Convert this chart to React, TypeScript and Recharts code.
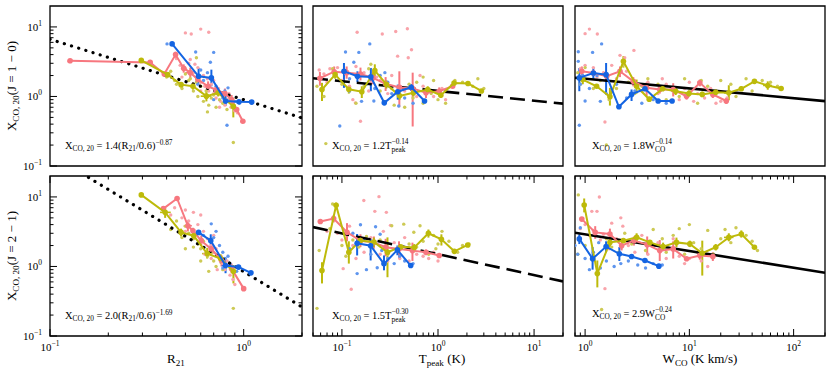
import React from 'react';
import { ComposedChart, Scatter, XAxis, YAxis, ErrorBar, ReferenceArea } from 'recharts';

// bins: [x, y, yLow, yHigh, xLow?, xHigh?]   dots: [x, y]
const yTicks = [0.1, 0.2, 0.3, 0.4, 0.5, 0.6, 0.7, 0.8, 0.9, 1, 2, 3, 4, 5, 6, 7, 8, 9, 10];
const r21Ticks = [0.1, 0.2, 0.3, 0.4, 0.5, 0.6, 0.7, 0.8, 0.9, 1, 2];
const tpeakTicks = [0.05, 0.06, 0.07, 0.08, 0.09, 0.1, 0.2, 0.3, 0.4, 0.5, 0.6, 0.7, 0.8, 0.9, 1, 2, 3, 4, 5, 6, 7, 8, 9, 10, 20];
const wcoTicks = [0.8, 0.9, 1, 2, 3, 4, 5, 6, 7, 8, 9, 10, 20, 30, 40, 50, 60, 70, 80, 90, 100, 200];

const yDomain = [0.1, 20];
const r21Domain = [0.1, 2];
const tpeakDomain = [0.05, 20];
const wcoDomain = [0.8, 200];

// fit: [amplitude, pivot, slope]
const r21OneFit = [1.4, 0.6, -0.87];
const r21TwoFit = [2.0, 0.6, -1.69];
const tpeakOneFit = [1.2, 1, -0.14];
const tpeakTwoFit = [1.5, 1, -0.3];
const wcoOneFit = [1.8, 1, -0.14];
const wcoTwoFit = [2.9, 1, -0.24];

// ---- R21, J=1-0
const r21OnePinkBins = [
  [0.127, 3.27, 3.27, 3.27], [0.329, 3.09, 3.09, 3.09], [0.389, 2.1, 2.1, 2.1], [0.445, 4.0, 3.6, 4.4],
  [0.49, 2.55, 2.2, 2.9], [0.53, 2.2, 1.8, 2.6, 0.5, 0.56], [0.58, 1.75, 1.5, 2.05], [0.655, 1.4, 1.2, 1.65],
  [0.72, 1.25, 1.05, 1.45], [0.8, 1.1, 0.92, 1.3], [0.866, 0.9, 0.75, 1.05], [0.92, 0.65, 0.6, 0.7], [0.99, 0.44, 0.44, 0.44],
];
const r21OneOliveBins = [
  [0.296, 3.3, 3.3, 3.3], [0.405, 2.06, 1.9, 2.25], [0.475, 1.48, 1.35, 1.6], [0.547, 1.4, 1.25, 1.55],
  [0.642, 1.01, 0.85, 1.2, 0.6, 0.68], [0.738, 1.13, 1.0, 1.28], [0.884, 0.72, 0.5, 0.95],
];
const r21OneBlueBins = [
  [0.427, 5.7, 5.7, 5.7], [0.585, 1.95, 1.57, 2.57], [0.681, 1.85, 1.4, 2.43], [0.806, 0.86, 0.73, 1.07],
  [0.945, 0.84, 0.8, 0.88], [1.1, 0.83, 0.83, 0.83],
];
const r21OnePinkDots = [
  [0.125, 3.2], [0.45, 3.5], [0.47, 2.8], [0.5, 8.2], [0.5, 2.5], [0.52, 3.0], [0.536, 7.9], [0.55, 2.2], [0.55, 1.5],
  [0.57, 1.9], [0.58, 2.6], [0.6, 9.3], [0.6, 1.6], [0.6, 1.2], [0.62, 2.0], [0.63, 1.4], [0.65, 1.8], [0.66, 8.4],
  [0.66, 1.2], [0.68, 1.5], [0.7, 1.1], [0.72, 0.95], [0.74, 1.3], [0.76, 0.85], [0.78, 1.0], [0.8, 0.75], [0.82, 0.9],
  [0.84, 1.1], [0.86, 0.7], [0.9, 0.62], [0.93, 0.58], [0.48, 1.9], [0.53, 3.4], [0.56, 2.9], [0.7, 1.7], [0.75, 0.7], [0.88, 0.85],
];
const r21OneBlueDots = [
  [0.402, 5.7], [0.565, 4.35], [0.7, 4.3], [0.673, 3.1], [0.82, 0.385], [0.83, 1.33], [0.6, 2.4], [0.62, 1.7], [0.72, 1.4],
  [0.75, 1.1], [0.78, 0.95], [0.85, 0.9], [0.9, 0.85], [0.95, 0.8], [0.65, 2.2], [0.58, 1.5], [0.7, 0.9], [0.8, 1.2],
];
const r21OneOliveDots = [
  [0.884, 0.218], [0.42, 2.3], [0.44, 1.7], [0.45, 1.5], [0.48, 1.3], [0.5, 2.1], [0.52, 1.7], [0.53, 1.8], [0.55, 1.2],
  [0.57, 3.6], [0.57, 1.6], [0.58, 1.0], [0.6, 1.4], [0.62, 0.85], [0.64, 1.2], [0.65, 0.6], [0.66, 0.75], [0.68, 0.95],
  [0.7, 1.05], [0.72, 0.7], [0.75, 0.9], [0.78, 0.8], [0.82, 0.65], [0.85, 0.95], [0.4, 1.9],
];

// ---- R21, J=2-1
const r21TwoPinkBins = [
  [0.385, 6.8, 6.8, 6.8], [0.453, 9.5, 9.5, 9.5], [0.515, 3.85, 3.2, 4.6, 0.49, 0.54], [0.547, 3.27, 2.9, 3.6],
  [0.604, 2.35, 2.0, 2.8], [0.68, 1.79, 1.5, 2.1], [0.768, 1.22, 1.0, 1.45], [0.866, 0.93, 0.8, 1.1], [1.0, 0.48, 0.48, 0.48],
];
const r21TwoOliveBins = [
  [0.296, 10.7, 10.7, 10.7], [0.393, 6.0, 5.0, 7.2, 0.37, 0.42], [0.475, 3.09, 2.7, 3.5], [0.552, 2.77, 2.45, 3.1],
  [0.648, 1.53, 1.3, 1.85, 0.61, 0.69], [0.76, 1.3, 1.1, 1.5], [0.885, 0.85, 0.57, 1.05],
];
const r21TwoBlueBins = [
  [0.585, 3.09, 3.09, 3.09], [0.676, 2.35, 1.8, 2.9], [0.806, 1.03, 0.8, 1.35, 0.77, 0.84], [0.94, 0.98, 0.92, 1.05],
  [1.09, 0.81, 0.81, 0.81],
];
const r21TwoPinkDots = [
  [0.44, 7.0], [0.48, 5.0], [0.5, 6.5], [0.5, 3.2], [0.52, 4.5], [0.55, 6.0], [0.55, 2.8], [0.58, 4.0], [0.6, 5.5],
  [0.6, 2.2], [0.62, 3.2], [0.63, 1.5], [0.65, 2.5], [0.68, 2.0], [0.68, 1.3], [0.7, 1.6], [0.7, 2.8], [0.72, 1.8],
  [0.75, 1.3], [0.78, 1.1], [0.8, 0.9], [0.82, 1.2], [0.85, 0.75], [0.88, 0.65], [0.9, 0.55], [0.42, 5.5], [0.73, 0.9],
];
const r21TwoBlueDots = [
  [0.62, 2.8], [0.68, 4.1], [0.7, 2.6], [0.72, 3.2], [0.75, 2.0], [0.78, 1.6], [0.78, 0.95], [0.8, 1.3], [0.83, 1.4],
  [0.85, 1.1], [0.88, 0.9], [0.92, 0.85],
];
const r21TwoOliveDots = [
  [0.45, 4.5], [0.48, 2.6], [0.5, 3.8], [0.5, 1.8], [0.52, 3.0], [0.55, 2.5], [0.55, 1.9], [0.58, 2.1], [0.6, 1.8],
  [0.6, 1.2], [0.62, 2.3], [0.65, 1.4], [0.66, 0.85], [0.68, 1.6], [0.7, 1.2], [0.72, 1.0], [0.75, 1.3], [0.78, 0.9],
  [0.884, 0.25], [0.42, 3.4],
];

// ---- Tpeak, J=1-0
const tpeakOnePinkBins = [
  [0.059, 1.83, 1.43, 2.25], [0.083, 2.27, 1.9, 2.7], [0.112, 2.2, 1.8, 2.7], [0.156, 2.1, 1.7, 2.6], [0.21, 1.85, 1.5, 2.3],
  [0.285, 1.52, 1.2, 1.9], [0.396, 1.35, 0.7, 2.3], [0.545, 1.3, 0.37, 2.2], [0.75, 1.13, 0.95, 1.3], [1.03, 1.19, 1.05, 1.35],
  [1.42, 1.4, 1.4, 1.4],
];
const tpeakOneOliveBins = [
  [0.062, 1.26, 0.86, 1.57], [0.085, 2.06, 1.8, 2.35], [0.118, 1.27, 1.1, 1.45], [0.161, 1.17, 0.95, 1.4],
  [0.22, 2.35, 1.8, 2.9], [0.29, 1.5, 1.3, 1.7], [0.398, 1.02, 0.9, 1.15], [0.555, 1.13, 1.0, 1.25],
  [0.782, 1.26, 1.15, 1.4], [1.07, 1.04, 0.95, 1.15], [1.47, 1.56, 1.45, 1.7], [2.05, 1.54, 1.45, 1.65], [2.83, 1.2, 1.2, 1.2],
];
const tpeakOneBlueBins = [
  [0.105, 2.3, 1.33, 3.03], [0.145, 1.95, 1.6, 2.3], [0.2, 1.91, 1.19, 2.57], [0.276, 0.81, 0.81, 0.81],
  [0.381, 1.17, 0.9, 1.48], [0.526, 1.36, 1.2, 1.5], [0.724, 0.86, 0.86, 0.86],
];
const tpeakOnePinkDots = [
  [0.058, 2.4], [0.065, 2.1], [0.07, 1.6], [0.075, 2.5], [0.09, 2.6], [0.1, 1.7], [0.12, 1.4], [0.13, 0.9], [0.138, 0.81],
  [0.14, 2.7], [0.144, 8.4], [0.156, 0.44], [0.17, 2.2], [0.19, 1.2], [0.2, 1.6], [0.23, 1.9], [0.25, 1.7], [0.263, 7.9],
  [0.28, 1.5], [0.3, 1.1], [0.33, 2.0], [0.363, 8.6], [0.38, 3.8], [0.4, 1.4], [0.45, 1.2], [0.48, 9.4], [0.49, 3.6],
  [0.53, 4.7], [0.6, 1.0], [0.65, 2.0], [0.7, 1.4], [0.8, 1.2], [0.9, 1.0], [1.1, 1.3], [1.2, 0.9],
];
const tpeakOneBlueDots = [
  [0.095, 0.376], [0.109, 4.35], [0.12, 1.8], [0.12, 1.2], [0.133, 3.1], [0.15, 4.3], [0.16, 0.85], [0.18, 1.5],
  [0.195, 5.7], [0.215, 0.86], [0.22, 1.3], [0.25, 2.0], [0.28, 2.2], [0.3, 1.6], [0.33, 1.1], [0.39, 0.73], [0.45, 0.95], [0.55, 0.8],
];
const tpeakOneOliveDots = [
  [0.055, 1.4], [0.065, 1.0], [0.068, 0.21], [0.08, 2.5], [0.1, 1.5], [0.12, 1.2], [0.14, 0.8], [0.17, 1.4], [0.19, 2.5],
  [0.2, 2.9], [0.25, 1.2], [0.28, 0.85], [0.33, 1.3], [0.35, 0.75], [0.4, 1.2], [0.45, 0.7], [0.5, 1.5], [0.55, 0.95],
  [0.6, 1.6], [0.7, 0.8], [0.7, 1.9], [0.85, 1.1], [0.9, 1.7], [1.0, 0.9], [1.2, 0.8], [1.5, 1.7], [1.8, 1.6], [2.3, 1.4],
  [2.6, 1.8], [3.0, 1.3],
];

// ---- Tpeak, J=2-1
const tpeakTwoPinkBins = [
  [0.0596, 4.44, 4.44, 4.44], [0.082, 4.9, 4.3, 5.5], [0.113, 3.1, 2.3, 4.2], [0.156, 2.35, 1.9, 2.9], [0.215, 2.22, 1.8, 2.7],
  [0.285, 1.89, 1.4, 2.5], [0.393, 1.79, 1.3, 2.3], [0.542, 1.69, 1.2, 2.2], [0.75, 1.6, 1.45, 1.75], [1.03, 1.44, 1.35, 1.55],
];
const tpeakTwoOliveBins = [
  [0.062, 0.877, 0.57, 1.15], [0.087, 7.6, 6.9, 8.3], [0.118, 1.6, 1.1, 2.3], [0.155, 2.35, 2.35, 2.35], [0.215, 2.25, 1.9, 2.6],
  [0.298, 1.6, 0.7, 2.62], [0.41, 1.92, 1.92, 1.92], [0.567, 1.87, 1.6, 2.1], [0.795, 3.0, 2.6, 3.4], [1.085, 2.46, 2.0, 2.9],
  [1.48, 1.65, 1.65, 1.65], [2.04, 2.04, 2.04, 2.04],
];
const tpeakTwoBlueBins = [
  [0.144, 2.15, 1.44, 2.93], [0.199, 1.99, 1.22, 2.62], [0.274, 1.09, 0.88, 1.44], [0.378, 1.73, 1.45, 2.0], [0.52, 1.03, 1.03, 1.03],
];
const tpeakTwoPinkDots = [
  [0.07, 3.2], [0.09, 3.0], [0.1, 2.4], [0.103, 0.93], [0.12, 3.8], [0.125, 0.47], [0.13, 2.0], [0.14, 1.3], [0.169, 8.9],
  [0.17, 1.6], [0.2, 2.6], [0.22, 6.2], [0.243, 10.1], [0.25, 1.5], [0.27, 3.2], [0.29, 6.0], [0.3, 1.2], [0.32, 3.9],
  [0.35, 2.2], [0.4, 1.3], [0.45, 2.6], [0.5, 1.2], [0.6, 1.5], [0.7, 1.4], [0.8, 1.3], [0.9, 1.6], [1.0, 1.2],
];
const tpeakTwoBlueDots = [
  [0.12, 1.8], [0.13, 3.0], [0.144, 0.79], [0.156, 3.98], [0.17, 2.5], [0.18, 0.9], [0.2, 1.5], [0.224, 3.72], [0.233, 0.96],
  [0.25, 2.9], [0.26, 1.7], [0.3, 1.3], [0.35, 1.1], [0.4, 1.4], [0.45, 1.2], [0.55, 1.1],
];
const tpeakTwoOliveDots = [
  [0.055, 0.25], [0.058, 1.7], [0.075, 3.5], [0.08, 7.9], [0.1, 2.0], [0.11, 1.4], [0.13, 2.4], [0.15, 1.9], [0.18, 2.7],
  [0.25, 2.4], [0.3, 1.5], [0.33, 3.85], [0.38, 1.7], [0.44, 4.06], [0.5, 2.1], [0.56, 3.1], [0.6, 1.9], [0.65, 3.85],
  [0.7, 2.3], [0.8, 1.5], [0.9, 2.8], [0.95, 1.8], [1.0, 2.1], [1.1, 3.2], [1.3, 2.3], [1.6, 1.6], [1.8, 2.0], [2.1, 2.1],
];

// ---- WCO, J=1-0
const wcoOnePinkBins = [
  [0.93, 2.3, 1.9, 2.7], [1.2, 2.18, 2.18, 2.18], [1.61, 1.95, 1.7, 2.2], [2.16, 2.3, 1.9, 2.7], [2.9, 1.65, 1.4, 1.9],
  [3.89, 1.33, 1.0, 1.6], [5.2, 1.26, 1.1, 1.45], [7.0, 1.26, 1.0, 1.55, 6.4, 7.6], [9.4, 1.01, 0.9, 1.15], [12.6, 1.57, 1.4, 1.75],
  [16.8, 1.07, 0.95, 1.2], [22.6, 0.86, 0.78, 0.95],
];
const wcoOneOliveBins = [
  [0.95, 1.75, 1.5, 2.0], [1.29, 1.4, 1.4, 1.4], [1.73, 0.99, 0.74, 1.33], [2.33, 3.2, 2.6, 3.8], [3.12, 1.4, 1.1, 1.75],
  [4.12, 0.91, 0.85, 1.0], [5.53, 1.29, 1.2, 1.4], [7.4, 1.19, 1.05, 1.35], [9.9, 1.1, 1.0, 1.2], [13.3, 1.07, 0.98, 1.17],
  [17.9, 1.15, 1.05, 1.25], [23.9, 1.13, 0.88, 1.45, 21.5, 26.5], [31.5, 1.29, 1.2, 1.4], [42.1, 1.65, 1.55, 1.75],
  [56.5, 1.44, 1.25, 1.65, 51, 62], [75.9, 1.3, 1.3, 1.3],
];
const wcoOneBlueBins = [
  [0.88, 1.85, 1.19, 2.57], [1.2, 2.18, 1.8, 2.6], [1.59, 2.06, 1.13, 3.03], [2.11, 0.71, 0.71, 0.71],
  [2.79, 1.07, 0.86, 1.26], [3.75, 1.29, 1.29, 1.29], [5.02, 0.86, 0.86, 0.86], [6.83, 0.86, 0.86, 0.86],
];
const wcoOnePinkDots = [
  [0.9, 2.5], [1.0, 8.0], [1.0, 2.8], [1.1, 9.3], [1.2, 2.6], [1.3, 1.9], [1.31, 7.9], [1.5, 2.2], [1.55, 0.43], [1.8, 2.8],
  [2.0, 1.8], [2.16, 3.9], [2.4, 3.6], [2.5, 2.3], [2.94, 4.6], [3.0, 1.5], [3.5, 1.2], [4.0, 1.6], [5, 1.1], [5.5, 1.8],
  [6, 1.5], [7, 1.2], [8, 0.9], [9, 1.3], [10, 1.6], [11, 0.85], [12, 1.1], [14, 0.95], [16, 1.3], [18, 0.8], [20, 0.85], [23, 0.95],
];
const wcoOneBlueDots = [
  [0.86, 4.4], [0.86, 3.2], [0.88, 0.385], [0.9, 1.5], [0.95, 2.0], [1.0, 0.86], [1.1, 1.3], [1.18, 4.3], [1.3, 2.0],
  [1.4, 0.85], [1.44, 5.7], [1.6, 1.1], [2.0, 1.5], [2.5, 0.95], [3.0, 1.2], [3.5, 0.8], [4.5, 0.9], [6.0, 0.8],
];
const wcoOneOliveDots = [
  [0.85, 2.2], [0.9, 1.5], [1.0, 2.6], [1.2, 1.3], [1.4, 1.7], [1.6, 0.2], [1.7, 0.9], [2.0, 1.3], [2.3, 2.8], [2.6, 1.6],
  [3.0, 1.1], [3.5, 1.4], [4.0, 1.8], [5, 1.5], [6, 0.9], [7, 1.3], [8, 1.0], [9, 1.8], [10, 1.2], [12, 0.8], [13, 1.7],
  [15, 1.4], [18, 1.2], [20, 1.7], [25, 1.5], [28, 1.0], [35, 1.8], [40, 1.2], [50, 1.7], [60, 1.6], [70, 1.4],
];

// ---- WCO, J=2-1
const wcoTwoPinkBins = [
  [0.93, 4.8, 4.8, 4.8], [1.25, 3.09, 2.5, 3.8], [1.73, 2.93, 2.4, 3.5], [2.24, 1.99, 1.7, 2.3], [2.94, 2.35, 2.0, 2.7],
  [3.94, 2.06, 1.5, 2.7], [5.2, 1.69, 1.2, 2.4], [7.0, 1.79, 1.3, 2.3], [9.4, 1.29, 1.29, 1.29], [12.6, 1.44, 1.25, 1.65],
  [16.8, 1.39, 1.2, 1.6],
];
const wcoTwoOliveBins = [
  [0.98, 7.67, 6.0, 9.5], [1.31, 0.79, 0.5, 1.22], [1.73, 2.22, 1.9, 2.6], [2.33, 2.35, 2.35, 2.35], [3.12, 2.62, 2.3, 3.0],
  [4.18, 2.22, 2.22, 2.22], [5.6, 1.93, 1.7, 2.2], [7.52, 2.22, 1.9, 2.6], [10.1, 2.11, 1.9, 2.35], [13.3, 1.55, 0.74, 2.35],
  [17.9, 1.89, 1.7, 2.1], [23.9, 2.62, 2.3, 3.0, 21.5, 26.5], [31.5, 2.93, 2.6, 3.3], [42.1, 1.89, 1.89, 1.89],
];
const wcoTwoBlueBins = [
  [0.88, 2.49, 2.1, 2.9], [1.18, 1.29, 0.9, 1.9], [1.59, 1.93, 1.6, 2.3], [2.13, 1.52, 1.2, 1.9], [2.79, 1.39, 1.3, 1.5],
  [3.75, 1.22, 1.22, 1.22], [5.1, 1.01, 1.01, 1.01],
];
const wcoTwoPinkDots = [
  [0.9, 3.5], [1.0, 4.0], [1.1, 2.8], [1.16, 6.2], [1.2, 3.3], [1.3, 6.2], [1.37, 10.0], [1.4, 2.4], [1.5, 2.9], [1.55, 0.48],
  [1.7, 1.8], [1.8, 4.2], [2.0, 2.5], [2.2, 5.0], [2.3, 3.8], [2.6, 2.0], [3.0, 1.6], [3.5, 2.8], [4, 1.5], [5, 2.2],
  [6, 1.3], [7, 2.5], [8, 1.4], [9, 1.1], [10, 1.3], [12, 1.6], [13, 1.2], [15, 1.0], [17, 1.5],
];
const wcoTwoBlueDots = [
  [0.8, 2.0], [0.85, 1.5], [0.9, 3.6], [1.0, 1.3], [1.1, 0.9], [1.2, 1.6], [1.35, 2.2], [1.4, 0.95], [1.6, 1.2], [1.9, 1.0],
  [2.2, 1.1], [2.6, 1.2], [3.2, 1.05], [3.8, 0.95], [4.5, 1.1], [5.5, 1.05],
];
const wcoTwoOliveDots = [
  [0.85, 1.5], [0.86, 10.7], [1.0, 2.0], [1.2, 1.3], [1.44, 0.24], [1.6, 2.5], [1.8, 1.9], [2.1, 1.6], [2.4, 3.0], [2.8, 2.1],
  [3.2, 2.6], [3.8, 1.7], [4.5, 3.4], [5.5, 2.5], [6, 1.6], [7, 2.8], [8, 3.5], [9, 1.5], [10, 4.0], [11, 2.2], [13, 1.8],
  [15, 3.3], [17, 1.5], [20, 2.5], [22, 3.4], [25, 2.2], [28, 3.6], [35, 2.8], [40, 2.3], [45, 1.7],
];

const PINK = '#F7777F';
const PINK_DOT = '#F9A3AA';
const OLIVE = '#BDBA0A';
const OLIVE_DOT = '#CDCA55';
const BLUE = '#1464E2';
const BLUE_DOT = '#5E95EE';
const FONT = '"Liberation Serif", "DejaVu Serif", serif';

const toBins = (rows: number[][]) =>
  rows.map(([x, y, lo, hi, xlo, xhi]) => ({
    x,
    y,
    ey: [y - lo, hi - y],
    ex: xlo !== undefined ? [x - xlo, xhi - x] : [0, 0],
  }));
const toDots = (rows: number[][]) => rows.map(([x, y]) => ({ x, y }));
const fitLine = ([amp, pivot, slope]: number[], domain: number[]) =>
  domain.map((x) => ({ x, y: amp * Math.pow(x / pivot, slope) }));

const isDecade = (v: number) => Math.abs(Math.log10(v) - Math.round(Math.log10(v))) < 1e-6;
const expLabel = (v: number) => {
  const e = Math.round(Math.log10(v));
  return e < 0 ? `\u2212${-e}` : `${e}`;
};

const dotShape = (color: string, r: number) => (p: any) =>
  p.cx == null ? <g /> : <circle cx={p.cx} cy={p.cy} r={r} fill={color} />;
const noShape = () => <g />;

const FIT_STYLES: Record<string, any> = {
  dotted: { stroke: '#000', strokeWidth: 3.2, strokeDasharray: '0.1 7.4', strokeLinecap: 'round' },
  dashed: { stroke: '#000', strokeWidth: 2.6, strokeDasharray: '15 7' },
  solid: { stroke: '#000', strokeWidth: 2.6 },
};

interface PanelProps {
  left: number;
  top: number;
  width: number;
  height: number;
  margin: { top: number; right: number; bottom: number; left: number };
  yWidth: number;
  xHeight: number;
  xDomain: number[];
  xTicks: number[];
  showX: boolean;
  showY: boolean;
  fit: number[];
  fitStyle: string;
  pinkBins: number[][];
  oliveBins: number[][];
  blueBins: number[][];
  pinkDots: number[][];
  oliveDots: number[][];
  blueDots: number[][];
}

function Panel(props: PanelProps) {
  const { left, top, width, height, margin, yWidth, xHeight, xDomain, xTicks, showX, showY } = props;
  const plotLeft = margin.left + yWidth;
  const plotRight = width - margin.right;
  const plotTop = margin.top;
  const plotBottom = height - margin.bottom - xHeight;

  const xTick = (p: any) => {
    const v = p.payload.value;
    const major = isDecade(v);
    const len = major ? 7 : 3.5;
    return (
      <g>
        <line x1={p.x} x2={p.x} y1={plotBottom} y2={plotBottom - len} stroke="#000" strokeWidth={1} />
        <line x1={p.x} x2={p.x} y1={plotTop} y2={plotTop + len} stroke="#000" strokeWidth={1} />
        {showX && major && (
          <text x={p.x} y={plotBottom + 15} textAnchor="middle" fontFamily={FONT} fontSize={11} fill="#000">
            10<tspan dy={-5} fontSize={7.5}>{expLabel(v)}</tspan>
          </text>
        )}
      </g>
    );
  };

  const yTick = (p: any) => {
    const v = p.payload.value;
    const major = isDecade(v);
    const len = major ? 7 : 3.5;
    return (
      <g>
        <line x1={plotLeft} x2={plotLeft + len} y1={p.y} y2={p.y} stroke="#000" strokeWidth={1} />
        <line x1={plotRight} x2={plotRight - len} y1={p.y} y2={p.y} stroke="#000" strokeWidth={1} />
        {showY && major && (
          <text x={plotLeft - 8} y={p.y + 4} textAnchor="end" fontFamily={FONT} fontSize={11} fill="#000">
            10<tspan dy={-5} fontSize={7.5}>{expLabel(v)}</tspan>
          </text>
        )}
      </g>
    );
  };

  const series = [
    { bins: props.pinkBins, dots: props.pinkDots, c: PINK, d: PINK_DOT },
    { bins: props.oliveBins, dots: props.oliveDots, c: OLIVE, d: OLIVE_DOT },
    { bins: props.blueBins, dots: props.blueDots, c: BLUE, d: BLUE_DOT },
  ];

  return (
    <div style={{ position: 'absolute', left, top }}>
      <ComposedChart width={width} height={height} margin={margin}>
        <XAxis
          type="number"
          dataKey="x"
          scale="log"
          domain={xDomain}
          allowDataOverflow
          ticks={xTicks}
          interval={0}
          tick={xTick}
          tickLine={false}
          axisLine={false}
          tickSize={0}
          height={xHeight}
        />
        <YAxis
          type="number"
          dataKey="y"
          scale="log"
          domain={yDomain}
          allowDataOverflow
          ticks={yTicks}
          interval={0}
          tick={yTick}
          tickLine={false}
          axisLine={false}
          tickSize={0}
          width={yWidth}
        />
        {series.map((s, i) => (
          <Scatter key={`dots-${i}`} data={toDots(s.dots)} fill={s.d} shape={dotShape(s.d, 1.7)} isAnimationActive={false} />
        ))}
        <Scatter
          data={fitLine(props.fit, xDomain)}
          fill="#000"
          line={FIT_STYLES[props.fitStyle]}
          shape={noShape}
          isAnimationActive={false}
        />
        {series.map((s, i) => (
          <Scatter
            key={`bins-${i}`}
            data={toBins(s.bins)}
            fill={s.c}
            line={{ stroke: s.c, strokeWidth: 2 }}
            shape={dotShape(s.c, 2.8)}
            isAnimationActive={false}
          >
            <ErrorBar dataKey="ey" direction="y" width={0} stroke={s.c} strokeWidth={2} isAnimationActive={false} />
            <ErrorBar dataKey="ex" direction="x" width={0} stroke={s.c} strokeWidth={1.6} isAnimationActive={false} />
          </Scatter>
        ))}
        <ReferenceArea
          x1={xDomain[0]}
          x2={xDomain[1]}
          y1={yDomain[0]}
          y2={yDomain[1]}
          fill="none"
          fillOpacity={0}
          stroke="#000"
          strokeWidth={1.3}
          ifOverflow="visible"
        />
      </ComposedChart>
    </div>
  );
}

const colGeom = [
  { left: 0, width: 310, mLeft: 0, yWidth: 50, mRight: 8, showY: true },
  { left: 305, width: 265, mLeft: 8, yWidth: 0, mRight: 7, showY: false },
  { left: 567, width: 265, mLeft: 8, yWidth: 0, mRight: 7, showY: false },
];
const rowGeom = [
  { top: 0, height: 172, mTop: 6, mBottom: 6, xHeight: 0, showX: false },
  { top: 170, height: 204, mTop: 6, mBottom: 0, xHeight: 38, showX: true },
];

const text: React.CSSProperties = { position: 'absolute', fontFamily: FONT, color: '#000', whiteSpace: 'nowrap', lineHeight: 1 };
const sub: React.CSSProperties = { fontSize: '0.7em', verticalAlign: '-0.3em' };
const sup: React.CSSProperties = { fontSize: '0.7em', verticalAlign: '0.5em' };

function SubSup({ lo, hi }: { lo: string; hi: string }) {
  return (
    <span style={{ display: 'inline-flex', flexDirection: 'column', fontSize: '0.7em', lineHeight: 1.15, verticalAlign: '0.7em' }}>
      <span>{hi}</span>
      <span>{lo}</span>
    </span>
  );
}

const XCO = () => (
  <>
    X<span style={sub}>CO, 20</span>
  </>
);

export default function App() {
  const panels = [
    { c: 0, r: 0, xDomain: r21Domain, xTicks: r21Ticks, fit: r21OneFit, fitStyle: 'dotted', pb: r21OnePinkBins, ob: r21OneOliveBins, bb: r21OneBlueBins, pd: r21OnePinkDots, od: r21OneOliveDots, bd: r21OneBlueDots },
    { c: 0, r: 1, xDomain: r21Domain, xTicks: r21Ticks, fit: r21TwoFit, fitStyle: 'dotted', pb: r21TwoPinkBins, ob: r21TwoOliveBins, bb: r21TwoBlueBins, pd: r21TwoPinkDots, od: r21TwoOliveDots, bd: r21TwoBlueDots },
    { c: 1, r: 0, xDomain: tpeakDomain, xTicks: tpeakTicks, fit: tpeakOneFit, fitStyle: 'dashed', pb: tpeakOnePinkBins, ob: tpeakOneOliveBins, bb: tpeakOneBlueBins, pd: tpeakOnePinkDots, od: tpeakOneOliveDots, bd: tpeakOneBlueDots },
    { c: 1, r: 1, xDomain: tpeakDomain, xTicks: tpeakTicks, fit: tpeakTwoFit, fitStyle: 'dashed', pb: tpeakTwoPinkBins, ob: tpeakTwoOliveBins, bb: tpeakTwoBlueBins, pd: tpeakTwoPinkDots, od: tpeakTwoOliveDots, bd: tpeakTwoBlueDots },
    { c: 2, r: 0, xDomain: wcoDomain, xTicks: wcoTicks, fit: wcoOneFit, fitStyle: 'solid', pb: wcoOnePinkBins, ob: wcoOneOliveBins, bb: wcoOneBlueBins, pd: wcoOnePinkDots, od: wcoOneOliveDots, bd: wcoOneBlueDots },
    { c: 2, r: 1, xDomain: wcoDomain, xTicks: wcoTicks, fit: wcoTwoFit, fitStyle: 'solid', pb: wcoTwoPinkBins, ob: wcoTwoOliveBins, bb: wcoTwoBlueBins, pd: wcoTwoPinkDots, od: wcoTwoOliveDots, bd: wcoTwoBlueDots },
  ];

  return (
    <div style={{ position: 'absolute', left: 0, top: 0, width: 831, height: 374, background: '#fff', overflow: 'hidden' }}>
      {panels.map((p, i) => {
        const cg = colGeom[p.c];
        const rg = rowGeom[p.r];
        return (
          <Panel
            key={i}
            left={cg.left}
            top={rg.top}
            width={cg.width}
            height={rg.height}
            margin={{ top: rg.mTop, right: cg.mRight, bottom: rg.mBottom, left: cg.mLeft }}
            yWidth={cg.yWidth}
            xHeight={rg.xHeight}
            xDomain={p.xDomain}
            xTicks={p.xTicks}
            showX={rg.showX}
            showY={cg.showY}
            fit={p.fit}
            fitStyle={p.fitStyle}
            pinkBins={p.pb}
            oliveBins={p.ob}
            blueBins={p.bb}
            pinkDots={p.pd}
            oliveDots={p.od}
            blueDots={p.bd}
          />
        );
      })}

      {/* y-axis titles */}
      <div style={{ ...text, fontSize: 13, left: 13, top: 86, transform: 'translate(-50%, -50%) rotate(-90deg)' }}>
        <XCO />(J = 1 − 0)
      </div>
      <div style={{ ...text, fontSize: 13, left: 13, top: 256, transform: 'translate(-50%, -50%) rotate(-90deg)' }}>
        <XCO />(J = 2 − 1)
      </div>

      {/* x-axis titles */}
      <div style={{ ...text, fontSize: 13, left: 176, top: 352, transform: 'translateX(-50%)' }}>
        R<span style={sub}>21</span>
      </div>
      <div style={{ ...text, fontSize: 13, left: 442, top: 352, transform: 'translateX(-50%)' }}>
        T<span style={sub}>peak</span> (K)
      </div>
      <div style={{ ...text, fontSize: 13, left: 700, top: 352, transform: 'translateX(-50%)' }}>
        W<span style={sub}>CO</span> (K km/s)
      </div>

      {/* fit annotations */}
      <div style={{ ...text, fontSize: 10.5, left: 65, top: 139 }}>
        <XCO /> = 1.4(R<span style={sub}>21</span>/0.6)<span style={sup}>−0.87</span>
      </div>
      <div style={{ ...text, fontSize: 10.5, left: 65, top: 309 }}>
        <XCO /> = 2.0(R<span style={sub}>21</span>/0.6)<span style={sup}>−1.69</span>
      </div>
      <div style={{ ...text, fontSize: 10.5, left: 332, top: 138 }}>
        <XCO /> = 1.2T<SubSup lo="peak" hi="−0.14" />
      </div>
      <div style={{ ...text, fontSize: 10.5, left: 332, top: 308 }}>
        <XCO /> = 1.5T<SubSup lo="peak" hi="−0.30" />
      </div>
      <div style={{ ...text, fontSize: 10.5, left: 592, top: 138 }}>
        <XCO /> = 1.8W<SubSup lo="CO" hi="−0.14" />
      </div>
      <div style={{ ...text, fontSize: 10.5, left: 592, top: 306 }}>
        <XCO /> = 2.9W<SubSup lo="CO" hi="−0.24" />
      </div>
    </div>
  );
}
